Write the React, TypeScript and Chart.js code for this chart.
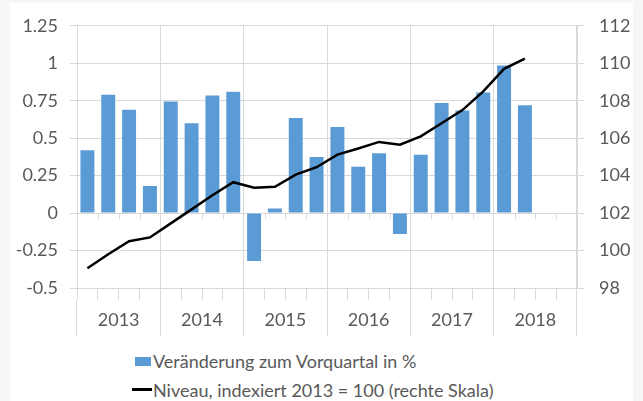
import React, { useEffect, useRef } from 'react';
import { Chart, registerables } from 'chart.js';

Chart.register(...registerables);

const quarterLabels = [
  '2013 Q1', '2013 Q2', '2013 Q3', '2013 Q4',
  '2014 Q1', '2014 Q2', '2014 Q3', '2014 Q4',
  '2015 Q1', '2015 Q2', '2015 Q3', '2015 Q4',
  '2016 Q1', '2016 Q2', '2016 Q3', '2016 Q4',
  '2017 Q1', '2017 Q2', '2017 Q3', '2017 Q4',
  '2018 Q1', '2018 Q2', '2018 Q3', '2018 Q4',
];
const yearLabels = ['2013', '2014', '2015', '2016', '2017', '2018'];

const changeValues = [
  0.42, 0.79, 0.69, 0.18,
  0.745, 0.6, 0.785, 0.81,
  -0.32, 0.03, 0.635, 0.375,
  0.575, 0.31, 0.4, -0.14,
  0.39, 0.735, 0.685, 0.805,
  0.985, 0.72,
];
const levelValues = [
  99.05, 99.8, 100.5, 100.7,
  101.45, 102.2, 102.95, 103.65,
  103.35, 103.4, 104.05, 104.45,
  105.12, 105.45, 105.8, 105.65,
  106.1, 106.8, 107.5, 108.5,
  109.7, 110.25,
];

const leftMin = -0.5;
const leftMax = 1.25;
const leftStep = 0.25;
const rightMin = 98;
const rightMax = 112;
const rightStep = 2;

const seriesNames = [
  'Veränderung zum Vorquartal in %',
  'Niveau, indexiert 2013 = 100 (rechte Skala)',
];

const BAR_COLOR = '#5B9BD5';
const LINE_COLOR = '#000000';
const GRID = '#d9d9d9';
const TEXT = '#595959';
const FONT = 'Lato, "Open Sans", sans-serif';

const zeroTicksPlugin = {
  id: 'zeroTicks',
  beforeDatasetsDraw(chart: any) {
    const xs = chart.scales.x;
    const ys = chart.scales.y;
    const y0 = ys.getPixelForValue(0);
    const ctx = chart.ctx;
    ctx.save();
    ctx.strokeStyle = GRID;
    ctx.lineWidth = 1;
    ctx.beginPath();
    for (let i = 1; i < quarterLabels.length; i++) {
      if (i % 4 === 0) continue;
      const px = Math.round((xs.getPixelForValue(i - 1) + xs.getPixelForValue(i)) / 2) + 0.5;
      ctx.moveTo(px, y0);
      ctx.lineTo(px, y0 + 6);
    }
    ctx.stroke();
    ctx.restore();
  },
};

export default function App() {
  const ref = useRef<HTMLCanvasElement | null>(null);

  useEffect(() => {
    if (!ref.current) return;
    const chart = new Chart(ref.current, {
      type: 'bar',
      data: {
        labels: quarterLabels,
        datasets: [
          {
            type: 'line',
            label: seriesNames[1],
            data: levelValues,
            yAxisID: 'y1',
            borderColor: LINE_COLOR,
            backgroundColor: LINE_COLOR,
            borderWidth: 2.5,
            pointRadius: 0,
            tension: 0,
            order: 0,
          } as any,
          {
            type: 'bar',
            label: seriesNames[0],
            data: changeValues,
            yAxisID: 'y',
            backgroundColor: BAR_COLOR,
            borderWidth: 0,
            barPercentage: 0.67,
            categoryPercentage: 1.0,
            order: 1,
          } as any,
        ],
      },
      options: {
        animation: false,
        responsive: false,
        devicePixelRatio: 1,
        layout: { padding: { top: 23, left: 0, right: 0, bottom: 0 } },
        plugins: {
          legend: { display: false },
          tooltip: { enabled: false },
        },
        scales: {
          x: {
            type: 'category',
            position: 'bottom',
            weight: 0,
            offset: true,
            grid: {
              offset: true,
              color: (ctx: any) =>
                ctx.index === undefined || ctx.index % 4 === 0 ? GRID : 'rgba(0,0,0,0)',
              tickColor: GRID,
              tickLength: 12,
              drawTicks: true,
            },
            border: { display: true, color: GRID },
            ticks: { display: false },
            afterFit: (s: any) => {
              s.height = 12;
            },
          },
          x2: {
            type: 'category',
            labels: yearLabels,
            position: 'bottom',
            weight: 1,
            offset: true,
            grid: {
              offset: true,
              drawOnChartArea: false,
              tickColor: GRID,
              tickLength: 36,
            },
            border: { display: false },
            ticks: {
              padding: -27,
              color: TEXT,
              font: { family: FONT, size: 18 },
              maxRotation: 0,
            },
            afterFit: (s: any) => {
              s.height = 40;
            },
          },
          y: {
            position: 'left',
            min: leftMin,
            max: leftMax,
            ticks: {
              stepSize: leftStep,
              padding: 12,
              color: TEXT,
              font: { family: FONT, size: 18 },
              callback: (v: any) => String(Math.round(Number(v) * 100) / 100),
            },
            grid: { color: GRID, tickColor: GRID, tickLength: 7 },
            border: { display: true, color: GRID },
            afterFit: (s: any) => {
              s.width = 77;
            },
          },
          y1: {
            position: 'right',
            min: rightMin,
            max: rightMax,
            ticks: {
              stepSize: rightStep,
              padding: 15,
              color: TEXT,
              font: { family: FONT, size: 18 },
            },
            grid: { drawOnChartArea: false, tickColor: GRID, tickLength: 7 },
            border: { display: true, color: GRID },
            afterFit: (s: any) => {
              s.width = 66;
            },
          },
        },
      } as any,
      plugins: [zeroTicksPlugin],
    });
    return () => chart.destroy();
  }, []);

  const textStyle: React.CSSProperties = {
    position: 'absolute',
    left: 153,
    fontFamily: FONT,
    fontSize: 18,
    color: TEXT,
    lineHeight: '22px',
    whiteSpace: 'nowrap',
  };

  return (
    <div
      style={{
        position: 'fixed',
        left: 0,
        top: 0,
        width: 643,
        height: 401,
        background: '#f7f7f7',
        overflow: 'hidden',
      }}
    >
      <div
        style={{
          position: 'absolute',
          left: 10,
          top: 3,
          width: 623,
          height: 398,
          background: '#ffffff',
        }}
      />
      <canvas
        ref={ref}
        width={643}
        height={340}
        style={{ position: 'absolute', left: 0, top: 0, width: 643, height: 340 }}
      />
      <div
        style={{
          position: 'absolute',
          left: 135,
          top: 357,
          width: 16,
          height: 9,
          background: BAR_COLOR,
        }}
      />
      <div style={{ ...textStyle, top: 350 }}>{seriesNames[0]}</div>
      <div
        style={{
          position: 'absolute',
          left: 132,
          top: 388,
          width: 20,
          height: 3,
          background: LINE_COLOR,
        }}
      />
      <div style={{ ...textStyle, top: 379 }}>{seriesNames[1]}</div>
    </div>
  );
}
